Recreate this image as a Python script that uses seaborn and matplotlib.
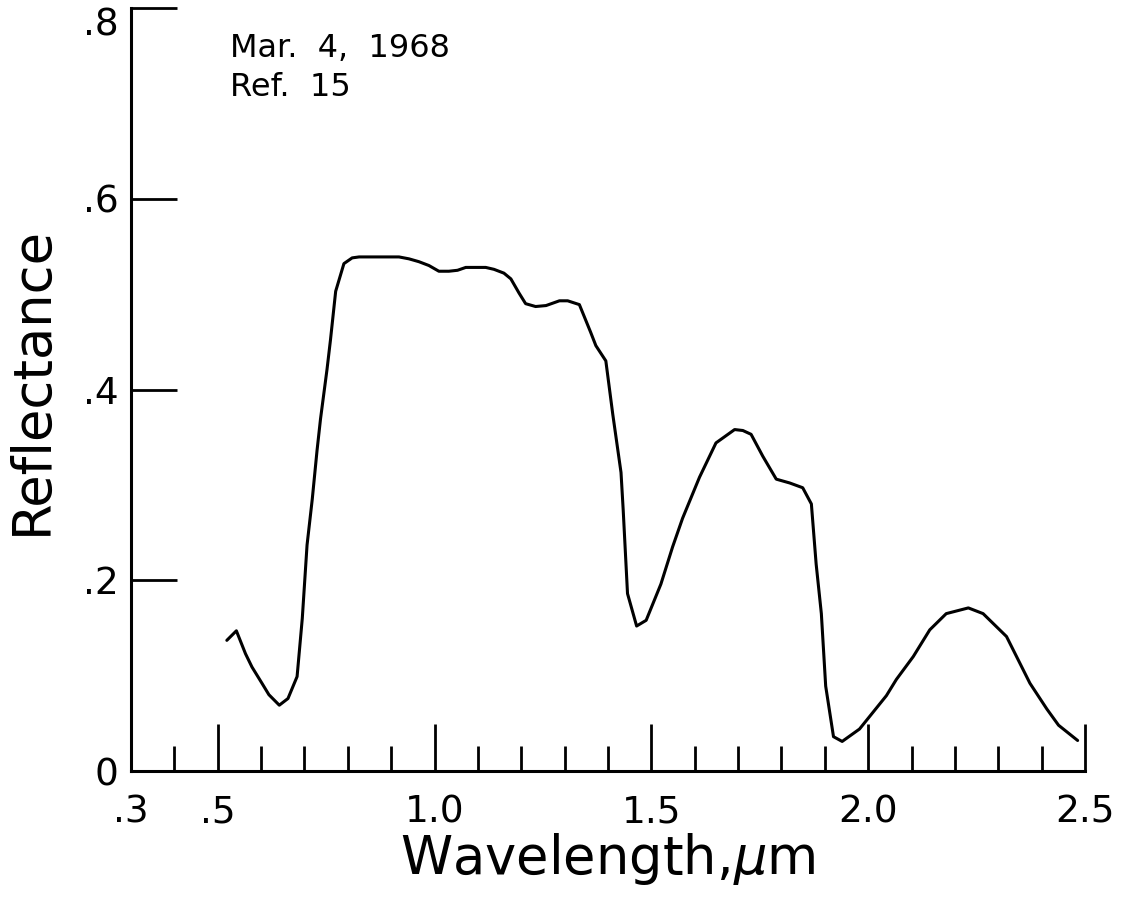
import matplotlib
matplotlib.use("Agg")
import matplotlib.pyplot as plt
import seaborn as sns
import pandas as pd

# ---- data ----
wavelength = [0.521, 0.543, 0.564, 0.579, 0.602, 0.618, 0.642, 0.662, 0.683, 0.695,
              0.706, 0.718, 0.729, 0.737, 0.752, 0.760, 0.772, 0.791, 0.810, 0.826,
              0.918, 0.941, 0.964, 0.987, 1.010, 1.033, 1.053, 1.072, 1.118, 1.137,
              1.160, 1.176, 1.195, 1.210, 1.233, 1.257, 1.288, 1.307, 1.334, 1.360,
              1.372, 1.395, 1.411, 1.430, 1.435, 1.445, 1.466, 1.488, 1.522, 1.549,
              1.572, 1.611, 1.649, 1.692, 1.711, 1.730, 1.757, 1.788, 1.819, 1.849,
              1.869, 1.880, 1.892, 1.902, 1.920, 1.940, 1.980, 2.042, 2.065, 2.104,
              2.142, 2.180, 2.231, 2.265, 2.319, 2.373, 2.412, 2.439, 2.483]
reflectance = [0.137, 0.147, 0.123, 0.109, 0.092, 0.080, 0.069, 0.076, 0.099, 0.160,
               0.237, 0.285, 0.336, 0.369, 0.421, 0.452, 0.503, 0.532, 0.538, 0.539,
               0.539, 0.537, 0.534, 0.530, 0.524, 0.524, 0.525, 0.528, 0.528, 0.526,
               0.522, 0.516, 0.501, 0.490, 0.487, 0.488, 0.493, 0.493, 0.489, 0.460,
               0.446, 0.430, 0.374, 0.313, 0.274, 0.186, 0.152, 0.158, 0.196, 0.235,
               0.265, 0.308, 0.344, 0.358, 0.357, 0.353, 0.330, 0.306, 0.302, 0.297,
               0.280, 0.217, 0.165, 0.089, 0.036, 0.031, 0.044, 0.079, 0.096, 0.120,
               0.148, 0.165, 0.171, 0.165, 0.141, 0.092, 0.065, 0.048, 0.032]

x_major_ticks = [0.3, 0.5, 1.0, 1.5, 2.0, 2.5]
x_major_labels = [".3", ".5", "1.0", "1.5", "2.0", "2.5"]
x_minor_ticks = [0.4, 0.6, 0.7, 0.8, 0.9, 1.1, 1.2, 1.3, 1.4, 1.6, 1.7, 1.8, 1.9,
                 2.1, 2.2, 2.3, 2.4]
y_ticks = [0.0, 0.2, 0.4, 0.6, 0.8]
y_labels = ["0", ".2", ".4", ".6", ".8"]
annotation = "Mar.  4,  1968\nRef.  15"

sns.set_theme(style="white")
plt.rcParams["font.family"] = ["DejaVu Sans"]
plt.rcParams["mathtext.fontset"] = "dejavusans"

df = pd.DataFrame({"Wavelength": wavelength, "Reflectance": reflectance})

fig = plt.figure(figsize=(11.26, 9.01), dpi=100)
ax = fig.add_axes([131 / 1126, 1 - 771 / 901, (1085 - 131) / 1126, (771 - 8) / 901])

sns.lineplot(data=df, x="Wavelength", y="Reflectance", ax=ax, color="black",
             linewidth=2.2, sort=False, estimator=None)

ax.set_xlim(0.3, 2.5)
ax.set_ylim(0.0, 0.8)
sns.despine(ax=ax)
for s in ("left", "bottom"):
    ax.spines[s].set_color("black")
    ax.spines[s].set_linewidth(2.2)

ax.set_xticks(x_major_ticks)
ax.set_xticklabels(x_major_labels)
ax.set_xticks(x_minor_ticks, minor=True)
ax.tick_params(axis="x", which="major", direction="in", length=34, width=2.0,
               color="black", labelsize=27, pad=17, labelcolor="black", bottom=True)
ax.tick_params(axis="x", which="minor", direction="in", length=18, width=2.0,
               color="black", bottom=True)
ax.xaxis.get_major_ticks()[0].tick1line.set_visible(False)

ax.set_yticks(y_ticks)
ax.set_yticklabels(y_labels)
ax.tick_params(axis="y", which="major", direction="in", length=33, width=2.0,
               color="black", labelsize=27, pad=9, labelcolor="black", left=True)
ax.yaxis.get_major_ticks()[0].tick1line.set_visible(False)
ax.get_yticklabels()[-1].set_verticalalignment("top")

ax.set_xlabel("Wavelength,$\\mu$m", fontsize=38, color="black", labelpad=0)
ax.set_ylabel("Reflectance", fontsize=38, color="black")
ax.yaxis.set_label_coords(-0.0765, 0.512)

ax.text(230 / 1126, 1 - 33 / 901, annotation, transform=fig.transFigure,
        fontsize=23, color="black", va="top", ha="left", linespacing=1.35)

ax.grid(False)
fig.savefig("out.png", dpi=100, facecolor="white")
